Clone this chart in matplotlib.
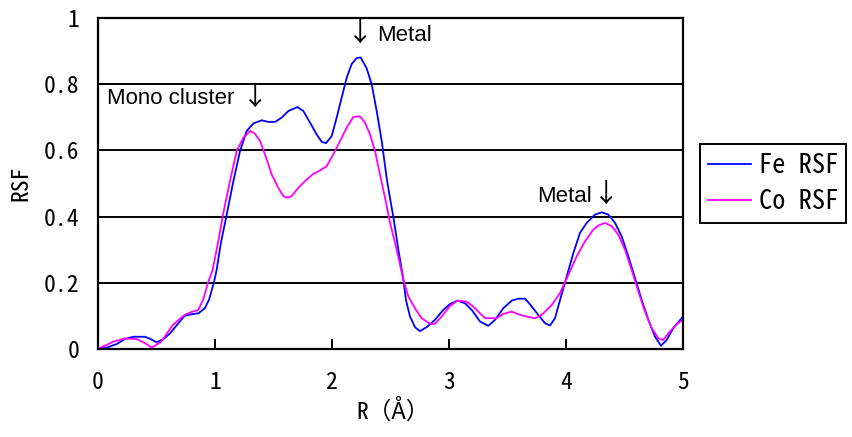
import matplotlib.pyplot as plt

fe_r = [0.00, 0.08, 0.16, 0.23, 0.30, 0.40, 0.45, 0.50, 0.56, 0.615, 0.68, 0.74,
        0.80, 0.86, 0.915, 0.95, 0.99, 1.014, 1.05, 1.10, 1.157, 1.214, 1.271, 1.327,
        1.399, 1.456, 1.513, 1.57, 1.627, 1.704, 1.755, 1.812, 1.869, 1.912, 1.949, 1.997,
        2.04, 2.083, 2.126, 2.168, 2.211, 2.245, 2.296, 2.339, 2.382, 2.425, 2.467, 2.496,
        2.524, 2.567, 2.61, 2.632, 2.667, 2.709, 2.752, 2.809, 2.88, 2.951, 3.009, 3.071,
        3.137, 3.194, 3.265, 3.336, 3.393, 3.464, 3.536, 3.593, 3.65, 3.692, 3.763, 3.821,
        3.863, 3.906, 3.949, 4.006, 4.063, 4.12, 4.177, 4.248, 4.305, 4.362, 4.419, 4.476,
        4.533, 4.59, 4.647, 4.704, 4.761, 4.812, 4.86, 4.917, 5.00]
fe_rsf = [0.0, 0.005, 0.015, 0.03, 0.037, 0.037, 0.03, 0.02, 0.03, 0.047, 0.075, 0.10,
          0.105, 0.108, 0.124, 0.15, 0.20, 0.239, 0.32, 0.406, 0.507, 0.598, 0.659, 0.681,
          0.691, 0.686, 0.686, 0.699, 0.719, 0.731, 0.719, 0.684, 0.648, 0.626, 0.622, 0.643,
          0.699, 0.760, 0.820, 0.861, 0.879, 0.881, 0.848, 0.80, 0.719, 0.628, 0.517, 0.455,
          0.40, 0.30, 0.209, 0.148, 0.098, 0.066, 0.054, 0.066, 0.088, 0.118, 0.136, 0.146,
          0.138, 0.118, 0.083, 0.07, 0.088, 0.123, 0.146, 0.152, 0.152, 0.135, 0.103, 0.078,
          0.071, 0.093, 0.148, 0.219, 0.29, 0.351, 0.381, 0.406, 0.413, 0.406, 0.381, 0.34,
          0.28, 0.214, 0.148, 0.088, 0.037, 0.01, 0.027, 0.063, 0.098]

co_r = [0.00, 0.13, 0.23, 0.33, 0.40, 0.46, 0.54, 0.64, 0.74, 0.80, 0.857, 0.90,
        0.94, 0.98, 1.03, 1.071, 1.128, 1.185, 1.242, 1.30, 1.342, 1.385, 1.427, 1.485,
        1.541, 1.584, 1.618, 1.655, 1.712, 1.784, 1.84, 1.897, 1.954, 2.011, 2.068, 2.126,
        2.182, 2.239, 2.282, 2.325, 2.368, 2.41, 2.453, 2.496, 2.553, 2.61, 2.652, 2.709,
        2.766, 2.838, 2.88, 2.937, 3.009, 3.071, 3.151, 3.208, 3.308, 3.407, 3.464, 3.536,
        3.607, 3.664, 3.735, 3.792, 3.878, 3.949, 4.02, 4.091, 4.162, 4.234, 4.276, 4.333,
        4.391, 4.448, 4.504, 4.561, 4.618, 4.675, 4.732, 4.79, 4.83, 4.886, 4.957, 5.00]
co_rsf = [0.0, 0.022, 0.032, 0.03, 0.018, 0.004, 0.022, 0.073, 0.103, 0.112, 0.118, 0.15,
          0.20, 0.239, 0.33, 0.411, 0.507, 0.598, 0.638, 0.659, 0.650, 0.628, 0.588, 0.527,
          0.487, 0.462, 0.457, 0.462, 0.487, 0.512, 0.529, 0.539, 0.552, 0.588, 0.628, 0.669,
          0.701, 0.703, 0.684, 0.648, 0.598, 0.527, 0.457, 0.381, 0.30, 0.209, 0.159, 0.123,
          0.093, 0.076, 0.076, 0.098, 0.130, 0.146, 0.143, 0.128, 0.093, 0.093, 0.106, 0.113,
          0.103, 0.098, 0.093, 0.103, 0.133, 0.169, 0.224, 0.28, 0.325, 0.361, 0.373, 0.381,
          0.371, 0.345, 0.30, 0.239, 0.174, 0.113, 0.063, 0.032, 0.027, 0.052, 0.078, 0.088]

x_ticks = [0, 1, 2, 3, 4, 5]
y_ticks = [0, 0.2, 0.4, 0.6, 0.8, 1]
y_labels = ['0', '0.2', '0.4', '0.6', '0.8', '1']

mono = ['Noto Sans Mono CJK JP', 'Noto Sans CJK JP', 'DejaVu Sans']
arial = ['Liberation Sans', 'DejaVu Sans']
cjk = ['Noto Sans CJK JP', 'DejaVu Sans']

fig = plt.figure(figsize=(8.53, 4.37), dpi=100)
ax = fig.add_axes([0.1149, 0.2014, 0.6858, 0.7574])

ax.plot(fe_r, fe_rsf, color='#0000ff', lw=1.3, label='Fe RSF')
ax.plot(co_r, co_rsf, color='#ff00ff', lw=1.3, label='Co RSF')

ax.set_xlim(0, 5)
ax.set_ylim(0, 1)
ax.set_xticks(x_ticks)
ax.set_yticks(y_ticks)
ax.set_yticklabels(y_labels)
for y in y_ticks[1:]:
    ax.axhline(y, color='black', lw=1.4, zorder=0)
for s in ax.spines.values():
    s.set_linewidth(1.6)
ax.tick_params(axis='x', direction='in', length=7, width=1.4, pad=16)
ax.tick_params(axis='y', length=0, pad=13.5)
for lab in ax.get_xticklabels() + ax.get_yticklabels():
    lab.set_family(mono)
    lab.set_fontsize(17)

ax.set_xlabel('R（Å）', family=mono, fontsize=17)
ax.set_ylabel('RSF', family=mono, fontsize=17)
ax.xaxis.set_label_coords(0.505, -0.15)
ax.yaxis.set_label_coords(-0.112, 0.5)

# annotations: words in Arial-like, arrows from the CJK font (tall arrow)
ax.text(2.382, 0.931, 'Metal', family=arial, fontsize=16, ha='left', va='baseline')
ax.text(2.236, 0.953, '↓', family=cjk, fontsize=19, ha='center', va='center')
ax.text(0.077, 0.739, 'Mono cluster', family=arial, fontsize=16, ha='left', va='baseline')
ax.text(1.342, 0.762, '↓', family=cjk, fontsize=19, ha='center', va='center')
ax.text(3.749, 0.4445, 'Metal', family=arial, fontsize=16, ha='left', va='baseline')
ax.text(4.339, 0.469, '↓', family=cjk, fontsize=19, ha='center', va='center')

leg = ax.legend(loc='upper left', bbox_to_anchor=(0.8206, 0.6705), bbox_transform=fig.transFigure,
                frameon=True, fancybox=False, edgecolor='black', framealpha=1,
                prop={'family': mono, 'size': 19}, borderpad=0.3, labelspacing=0.35,
                handlelength=1.63, handletextpad=0.3, borderaxespad=0)
leg.get_frame().set_linewidth(1.4)

fig.savefig('out.png', dpi=100)
